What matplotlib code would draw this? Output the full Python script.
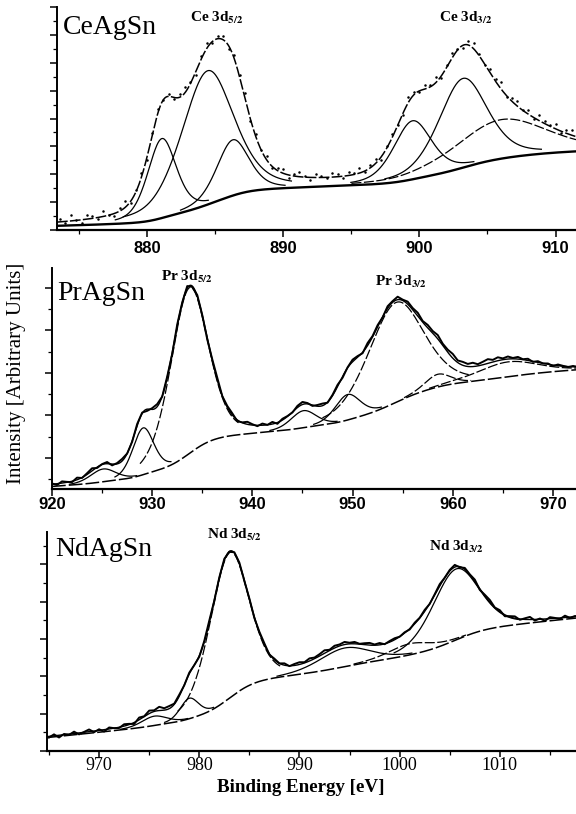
import numpy as np
import matplotlib
matplotlib.use("Agg")
import matplotlib.pyplot as plt
from matplotlib.ticker import MultipleLocator

plt.rcParams["font.family"] = ["Liberation Serif", "DejaVu Serif"]
plt.rcParams["mathtext.fontset"] = "stix"

# Ce 3d: fitted components (centre eV, height above background, FWHM eV)
ce_centres = [881.1, 884.45, 886.3, 899.5, 903.2, 906.0]
ce_heights = [2.85, 4.8, 2.0, 2.1, 3.2, 1.4]
ce_widths = [2.5, 4.5, 2.8, 3.3, 4.2, 8.0]
ce_background = [0.15, 0.01, 2.29]      # level, slope, Shirley step
ce_start, ce_step = 873.6, 0.4
ce_residuals = [0.12, -0.05, 0.2, 0.03, -0.1, 0.15, 0.08, -0.06, 0.18, 0.02,
                -0.08, 0.1, 0.22, -0.04, 0.06, 0.14, -0.1, 0.05, 0.17, 0.0,
                0.09, -0.07, 0.12, 0.2, 0.04, -0.12, 0.1, 0.18, -0.05, 0.08,
                0.15, -0.1, 0.12, 0.05, 0.2, -0.08, 0.1, 0.02, 0.16, -0.06,
                0.09, 0.14, -0.11, 0.07, 0.18, 0.03, -0.09, 0.13, 0.06, -0.04,
                0.15, 0.1, -0.07, 0.12, 0.04, 0.19, -0.05, 0.1, 0.16, -0.1,
                0.08, 0.14, 0.02, -0.06, 0.2, 0.11, -0.03, 0.15, 0.07, 0.22,
                -0.08, 0.1, 0.17, 0.03, -0.09, 0.13, 0.2, 0.05, -0.04, 0.16,
                0.09, 0.24, -0.06, 0.12, 0.18, 0.02, 0.15, -0.05, 0.21, 0.1,
                0.04, 0.17, -0.08, 0.12, 0.2, 0.06]

# Pr 3d
pr_centres = [925.1, 929.1, 933.7, 945.1, 949.5, 954.3, 958.5, 965.5]
pr_heights = [0.3, 1.1, 3.9, 0.4, 0.6, 2.35, 0.3, 0.35]
pr_widths = [3.0, 2.5, 4.4, 3.0, 3.0, 6.5, 3.0, 7.0]
pr_background = [0.33, 0.015, 1.96]
pr_start, pr_step = 920.0, 0.5
pr_residuals = [0.02, -0.03, 0.04, 0.01, -0.02, 0.05, -0.01, 0.03, 0.06, -0.02,
                0.01, 0.04, -0.03, 0.02, 0.05, 0.0, -0.02, 0.04, 0.02, -0.04,
                0.03, 0.06, -0.01, 0.02, -0.03, 0.04, 0.01, 0.05, -0.02, 0.03,
                0.0, -0.04, 0.02, 0.05, -0.01, 0.03, 0.04, -0.03, 0.01, 0.06,
                0.02, -0.02, 0.04, 0.0, 0.05, -0.03, 0.03, 0.01, -0.01, 0.04,
                0.06, 0.02, -0.02, 0.03, 0.05, -0.01, 0.02, 0.04, -0.03, 0.01,
                0.05, 0.03, -0.02, 0.06, 0.02, 0.04, -0.01, 0.05, 0.03, 0.07,
                0.02, 0.06, 0.04, 0.08, 0.03, 0.07, 0.05, 0.09, 0.04, 0.06,
                0.1, 0.05, 0.08, 0.06, 0.09, 0.04, 0.07, 0.1, 0.05, 0.08,
                0.03, 0.06, 0.02, 0.05, 0.01, 0.04, -0.01, 0.03, 0.0, 0.02,
                -0.02, 0.03, 0.01, -0.01, 0.02, 0.0]

# Nd 3d
nd_centres = [975.5, 979.0, 983.0, 994.5, 1001.0, 1005.6]
nd_heights = [0.25, 0.55, 3.9, 0.5, 0.3, 1.9]
nd_widths = [3.0, 2.2, 4.6, 6.0, 5.0, 5.5]
nd_background = [0.36, 0.026, 1.83]
nd_start, nd_step = 965.0, 0.5
nd_residuals = [-0.03, 0.04, -0.06, 0.02, -0.02, 0.05, -0.04, 0.01, 0.06, -0.03,
                0.03, -0.05, 0.04, 0.0, -0.02, 0.05, 0.02, -0.04, 0.06, 0.01,
                0.08, 0.03, 0.1, 0.05, 0.07, 0.02, 0.04, -0.01, 0.03, 0.0,
                -0.03, 0.02, 0.05, -0.02, 0.01, 0.04, -0.01, 0.02, 0.03, -0.02,
                0.01, -0.03, 0.02, 0.04, -0.02, 0.03, 0.0, 0.05, -0.01, 0.04,
                0.06, 0.02, 0.07, 0.03, 0.05, 0.08, 0.02, 0.06, 0.04, 0.07,
                0.03, 0.05, 0.01, 0.04, 0.06, 0.02, 0.05, -0.01, 0.03, 0.04,
                0.0, 0.02, -0.02, 0.03, 0.01, 0.04, -0.01, 0.02, 0.05, 0.0,
                0.03, 0.06, -0.02, 0.04, 0.01, 0.05, -0.03, 0.03, 0.06, 0.0,
                0.04, -0.04, 0.02, 0.05, -0.02, 0.03, 0.07, -0.03, 0.02, -0.05,
                0.04, 0.01, -0.03, 0.05, -0.02, 0.02, 0.0]


def pseudo_voigt(e, centre, height, fwhm, eta):
    x = (e - centre) / fwhm
    gauss = np.exp(-4 * np.log(2) * x ** 2)
    lorentz = 1.0 / (1 + 4 * x ** 2)
    return height * ((1 - eta) * gauss + eta * lorentz)


def shirley(e, peaks, level, slope, step):
    area = np.cumsum(peaks)
    return level + slope * (e - e[0]) + step * area / area[-1]


solid = {"ls": "-"}
dashed = {"dashes": (8, 2)}


def draw_spectrum(ax, xlim, centres, heights, widths, background, eta,
                  start, step, residuals, styles, cutoff, dots):
    e = np.linspace(xlim[0], xlim[1], 900)
    comps = [pseudo_voigt(e, c, h, w, eta)
             for c, h, w in zip(centres, heights, widths)]
    total = np.sum(comps, axis=0)
    bg = shirley(e, total, *background)

    for comp, h, st in zip(comps, heights, styles):
        y = np.where(comp > cutoff * h, bg + comp, np.nan)
        ax.plot(e, y, color="k", lw=0.9, **st)

    if dots:
        ax.plot(e, bg, color="k", lw=1.7)
        ax.plot(e, bg + total, color="k", lw=1.1, dashes=(7, 1.5))
    else:
        ax.plot(e, bg, color="k", lw=1.1, dashes=(9, 2))
        ax.plot(e, bg + total, color="k", lw=1.0)

    me = start + step * np.arange(len(residuals))
    measured = np.interp(me, e, bg + total) + np.array(residuals)
    if dots:
        ax.plot(me, measured, "o", color="k", ms=1.8, mew=0)
    else:
        ax.plot(me, measured, color="k", lw=1.4)


fig = plt.figure(figsize=(5.76, 8.14), dpi=100)
W, H = 576.0, 814.0


def make_axes(left, top, bottom):
    return fig.add_axes([left / W, 1 - bottom / H, 1 - left / W, (bottom - top) / H])


ax1 = make_axes(57, 7, 230)
ax2 = make_axes(52, 268, 489)
ax3 = make_axes(47, 532, 751)

draw_spectrum(ax1, (873.4, 911.5), ce_centres, ce_heights, ce_widths,
              ce_background, 0.4, ce_start, ce_step, ce_residuals,
              [solid, solid, solid, solid, solid, dashed], 0.05, True)
draw_spectrum(ax2, (920.0, 972.3), pr_centres, pr_heights, pr_widths,
              pr_background, 0.3, pr_start, pr_step, pr_residuals,
              [solid, solid, dashed, solid, solid, dashed, dashed, dashed],
              0.07, False)
draw_spectrum(ax3, (964.8, 1017.6), nd_centres, nd_heights, nd_widths,
              nd_background, 0.3, nd_start, nd_step, nd_residuals,
              [solid, solid, dashed, solid, dashed, solid], 0.07, False)

ax1.set_xlim(873.4, 911.5)
ax1.set_ylim(0, 8)
ax2.set_xlim(920.0, 972.3)
ax2.set_ylim(0.27, 5.47)
ax3.set_xlim(964.8, 1017.6)
ax3.set_ylim(0, 5.87)

for ax in (ax1, ax2, ax3):
    ax.spines["top"].set_visible(False)
    ax.spines["right"].set_visible(False)
    ax.spines["left"].set_linewidth(1.4)
    ax.spines["bottom"].set_linewidth(1.6)
    ax.xaxis.set_major_locator(MultipleLocator(10))
    ax.xaxis.set_minor_locator(MultipleLocator(5))
    ax.yaxis.set_major_locator(MultipleLocator(1))
    ax.yaxis.set_minor_locator(MultipleLocator(0.5))
    ax.tick_params(which="major", direction="out", length=5, width=1.1)
    ax.tick_params(which="minor", direction="out", length=3, width=0.9)
    ax.set_yticklabels([])
    ax.patch.set_visible(False)

ax1.tick_params(axis="x", pad=3)
ax2.tick_params(axis="x", pad=0.5)
ax3.tick_params(axis="x", which="major", length=4, pad=0)
for ax in (ax1, ax2):
    for lab in ax.get_xticklabels():
        lab.set_family("Liberation Sans")
        lab.set_fontsize(12)
        lab.set_fontweight("bold")
for lab in ax3.get_xticklabels():
    lab.set_fontsize(13)

ax1.text(873.8, 7.27, "CeAgSn", fontsize=20, ha="left", va="center")
ax2.text(920.5, 4.88, "PrAgSn", fontsize=20, ha="left", va="center")
ax3.text(965.6, 5.39, "NdAgSn", fontsize=20, ha="left", va="center")

label_style = dict(fontsize=11, fontweight="bold", ha="center", va="center")
ax1.text(885.1, 7.6, r"Ce 3d$_{\mathbf{5/2}}$", **label_style)
ax1.text(903.4, 7.6, r"Ce 3d$_{\mathbf{3/2}}$", **label_style)
ax2.text(933.5, 5.26, r"Pr 3d$_{\mathbf{5/2}}$", **label_style)
ax2.text(954.8, 5.14, r"Pr 3d$_{\mathbf{3/2}}$", **label_style)
ax3.text(983.5, 5.79, r"Nd 3d$_{\mathbf{5/2}}$", clip_on=False, **label_style)
ax3.text(1005.7, 5.47, r"Nd 3d$_{\mathbf{3/2}}$", **label_style)

fig.text(17 / W, 1 - 373 / H, "Intensity [Arbitrary Units]", fontsize=15,
         rotation=90, ha="center", va="center")
fig.text(301 / W, 1 - 788 / H, "Binding Energy [eV]", fontsize=13.7,
         fontweight="bold", ha="center", va="center")

fig.savefig("out.png", dpi=100)
